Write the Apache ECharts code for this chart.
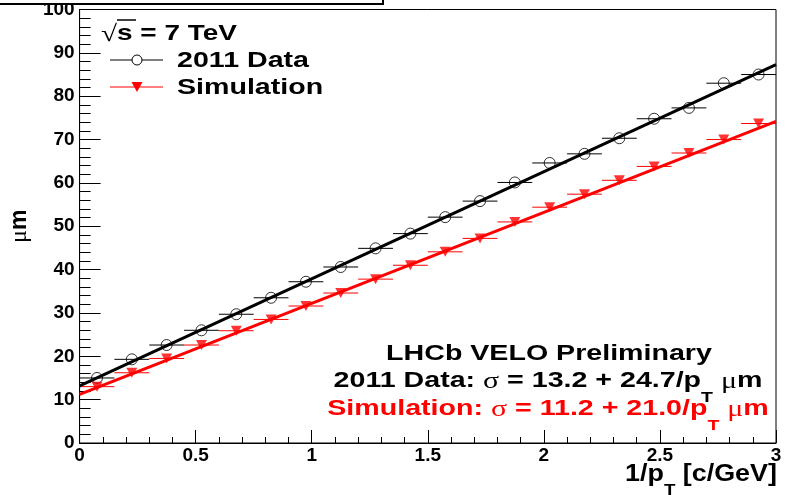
<!DOCTYPE html>
<html>
<head>
<meta charset="utf-8">
<script src="https://cdn.jsdelivr.net/npm/echarts@6/dist/echarts.min.js"></script>
<style>
  html, body { margin: 0; padding: 0; background: #fff; }
  #chart { width: 787px; height: 495px; }
</style>
</head>
<body>
<div id="chart"></div>
<script>
// Bin centres in 1/pT [c/GeV] and the half-width of each bin (horizontal error bar)
const binCenters = [0.075, 0.225, 0.375, 0.525, 0.675, 0.825, 0.975, 1.125, 1.275, 1.425,
                    1.575, 1.725, 1.875, 2.025, 2.175, 2.325, 2.475, 2.625, 2.775, 2.925];
const binHalfWidth = 0.075;

// IP resolution [um] per bin
const dataValues = [15.0, 19.3, 22.6, 26.0, 29.7, 33.5, 37.2, 40.6, 44.9, 48.3,
                    52.1, 55.8, 60.1, 64.6, 66.7, 70.3, 74.8, 77.3, 83.0, 85.0];
const simValues  = [13.0, 16.2, 19.5, 22.6, 25.9, 28.5, 31.6, 34.6, 37.8, 41.0,
                    44.1, 47.2, 51.0, 54.4, 57.4, 60.6, 63.8, 66.9, 70.0, 73.7];

// Linear fits sigma = a + b / pT  -> [a, b]
const dataFit = [13.2, 24.7];
const simFit  = [11.2, 21.0];
const fitRange = [0, 3];

// Axis ranges
const xRange = [0, 3, 0.5];
const yRange = [0, 100, 10];

const FONT = '"Liberation Sans", Arial, Helvetica, sans-serif';
const GREEK = '"Liberation Serif", "DejaVu Serif", serif';
const STRETCH = 1.3;
const RED = '#ff0000';

function fitPoints(p) {
  return fitRange.map(x => [x, +(p[0] + p[1] * x).toFixed(3)]);
}

function errorBars(name, values, color) {
  return {
    name: name + ' bins',
    type: 'custom',
    silent: true,
    z: 3,
    data: binCenters.map((x, i) => [x - binHalfWidth, x + binHalfWidth, values[i]]),
    encode: { x: [0, 1], y: 2 },
    renderItem(params, api) {
      const a = api.coord([api.value(0), api.value(2)]);
      const b = api.coord([api.value(1), api.value(2)]);
      return {
        type: 'line',
        shape: { x1: a[0], y1: a[1], x2: b[0], y2: b[1] },
        style: { stroke: color, lineWidth: 1 }
      };
    }
  };
}

function richStyles(size, color) {
  return {
    b:   { fontFamily: FONT, fontWeight: 'bold', fontSize: size, color: color, verticalAlign: 'top' },
    g:   { fontFamily: GREEK, fontWeight: 'normal', fontSize: size + 1, color: color, verticalAlign: 'top' },
    sub: { fontFamily: FONT, fontWeight: 'bold', fontSize: Math.round(size * 0.68), color: color,
           verticalAlign: 'top', padding: [Math.round(size * 0.9), 0, 0, 0] }
  };
}

function textItem(x, y, text, size, color, align, scale) {
  return {
    type: 'text',
    x: x, y: y,
    scaleX: scale || STRETCH,
    z: 20,
    silent: true,
    style: {
      x: 0, y: 0,
      text: text,
      rich: richStyles(size, color),
      fill: color,
      align: align, textAlign: align,
      verticalAlign: 'top', textVerticalAlign: 'top'
    }
  };
}

const chart = echarts.init(document.getElementById('chart'), null, { renderer: 'canvas' });

const axisColor = '#000';

chart.setOption({
  animation: false,
  backgroundColor: '#fff',
  grid: {
    left: 78, right: 11, top: 9, bottom: 52,
    show: true, borderColor: axisColor, borderWidth: 1, backgroundColor: 'transparent'
  },
  xAxis: {
    type: 'value',
    min: xRange[0], max: xRange[1], interval: xRange[2],
    axisLine: { show: true, lineStyle: { color: axisColor, width: 1 } },
    axisTick: { show: true, inside: true, length: 13, lineStyle: { color: axisColor } },
    minorTick: { show: true, splitNumber: 5, length: 6, lineStyle: { color: axisColor } },
    splitLine: { show: false },
    minorSplitLine: { show: false },
    axisLabel: {
      color: '#000', fontFamily: FONT, fontWeight: 'bold', fontSize: 19, margin: 3,
      showMinLabel: true, showMaxLabel: true
    }
  },
  yAxis: {
    type: 'value',
    min: yRange[0], max: yRange[1], interval: yRange[2],
    axisLine: { show: true, lineStyle: { color: axisColor, width: 1 } },
    axisTick: { show: true, inside: true, length: 21, lineStyle: { color: axisColor } },
    minorTick: { show: true, splitNumber: 5, length: 11, lineStyle: { color: axisColor } },
    splitLine: { show: false },
    minorSplitLine: { show: false },
    axisLabel: {
      color: '#000', fontFamily: FONT, fontWeight: 'bold', fontSize: 19, margin: 5,
      showMinLabel: true, showMaxLabel: true
    },
    name: '{g|μ}{b|m}',
    nameLocation: 'middle',
    nameRotate: 90,
    nameGap: 36,
    nameTextStyle: {
      rich: {
        g: { fontFamily: GREEK, fontSize: 24, color: '#000' },
        b: { fontFamily: FONT, fontWeight: 'bold', fontSize: 23, color: '#000' }
      }
    }
  },
  series: [
    errorBars('2011 Data', dataValues, '#000'),
    errorBars('Simulation', simValues, RED),
    {
      name: '2011 Data',
      type: 'scatter',
      z: 4,
      symbol: 'circle',
      symbolSize: 11,
      itemStyle: { color: 'rgba(255,255,255,0)', borderColor: '#000', borderWidth: 1 },
      data: binCenters.map((x, i) => [x, dataValues[i]])
    },
    {
      name: 'Simulation',
      type: 'scatter',
      z: 4,
      symbol: 'path://M0,0L12,0L6,10Z',
      symbolSize: [11, 10],
      itemStyle: { color: RED },
      data: binCenters.map((x, i) => [x, simValues[i]])
    },
    {
      name: '2011 Data fit',
      type: 'line',
      z: 5,
      showSymbol: false,
      lineStyle: { color: '#000', width: 3 },
      data: fitPoints(dataFit)
    },
    {
      name: 'Simulation fit',
      type: 'line',
      z: 5,
      showSymbol: false,
      lineStyle: { color: RED, width: 3 },
      data: fitPoints(simFit)
    }
  ],
  graphic: [
    // title pave peeking in at the top left
    {
      type: 'rect', z: 30, silent: true,
      shape: { x: -2, y: -20, width: 385, height: 24 },
      style: { fill: '#fff', stroke: '#000', lineWidth: 2 }
    },
    // legend
    textItem(101, 23, '{g|√}{b|s = 7 TeV}', 22, '#000', 'left', 1.27),
    {
      type: 'line', z: 20, silent: true,
      shape: { x1: 117, y1: 20, x2: 136, y2: 20 },
      style: { stroke: '#000', lineWidth: 1.5 }
    },
    {
      type: 'line', z: 20, silent: true,
      shape: { x1: 110, y1: 60, x2: 163, y2: 60 },
      style: { stroke: '#000', lineWidth: 1 }
    },
    {
      type: 'circle', z: 21, silent: true,
      shape: { cx: 137, cy: 60, r: 5 },
      style: { fill: '#fff', stroke: '#000', lineWidth: 1 }
    },
    textItem(177, 50, '{b|2011 Data}', 22, '#000', 'left'),
    {
      type: 'line', z: 20, silent: true,
      shape: { x1: 110, y1: 87, x2: 163, y2: 87 },
      style: { stroke: RED, lineWidth: 1 }
    },
    {
      type: 'polygon', z: 21, silent: true,
      shape: { points: [[131.5, 82], [142.5, 82], [137, 92]] },
      style: { fill: RED }
    },
    textItem(177, 77, '{b|Simulation}', 22, '#000', 'left'),
    // fit summary
    textItem(549, 343, '{b|LHCb VELO Preliminary}', 22, '#000', 'center'),
    textItem(548, 370, '{b|2011 Data: }{g|σ}{b| = 13.2 + 24.7/p}{sub|T}{b| }{g|μ}{b|m}', 22, '#000', 'center'),
    textItem(548, 398, '{b|Simulation: }{g|σ}{b| = 11.2 + 21.0/p}{sub|T}{b| }{g|μ}{b|m}', 22, RED, 'center'),
    // x-axis title
    textItem(777, 463, '{b|1/p}{sub|T}{b| [c/GeV]}', 23, '#000', 'right', 1.17)
  ]
});
</script>
</body>
</html>
